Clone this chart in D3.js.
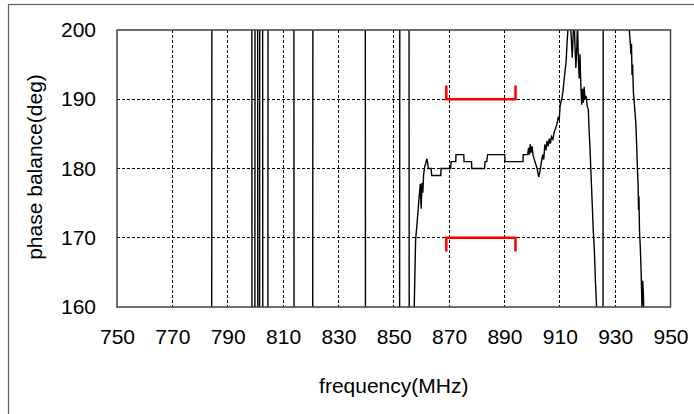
<!DOCTYPE html>
<html lang="en">
<head>
  <meta charset="utf-8">
  <title>Phase balance</title>
  <style>
    body {
      margin: 0;
      background: #fff;
    }

    svg text {
      font-family: "Liberation Sans", Arial, sans-serif;
      fill: #000;
    }

    .axis path {
      display: none;
    }

    .axis text {
      font-size: 21px;
    }

    .grid line {
      stroke: #000;
      stroke-width: 1;
      stroke-dasharray: 3,2;
      shape-rendering: crispEdges;
    }
  </style>
</head>
<body>
  <div id="chart"></div>

  <script src="https://d3js.org/d3.v7.min.js"></script>
  <script>
    // frequency (MHz) and phase balance (deg);
    // values outside 160..200 are where the trace leaves the window (phase wraps)
    var freq = [
      750, 784.2, 784.3, 798.7, 798.8, 799.8, 799.9, 800.8, 800.9, 801.5, 801.6,
      802.6, 802.7, 804.5, 804.6, 813.9, 814.0, 820.7, 820.8, 839.7, 839.8,
      852.1, 852.2, 855.5, 855.6,
      857.0, 857.4, 857.9, 858.4, 858.9, 859.3, 859.6, 859.9, 860.2, 860.5, 860.8,
      861.2, 861.6, 861.9, 862.2, 862.5, 863.5, 863.7, 867.0, 867.1, 870.6, 870.7,
      872.4, 872.5, 875.3, 875.4, 878.1, 878.2, 882.8, 883.0, 883.6, 883.9, 890.1,
      890.2, 896.7, 896.8, 898.4, 898.7, 899.0, 899.3, 899.6, 900.0, 900.3, 901.0,
      901.8, 902.4, 902.8, 903.3, 903.8, 904.2, 904.6, 905.0, 905.4, 905.8, 906.2,
      906.6, 907.0, 907.5, 908.0, 908.5, 909.0, 909.5, 909.8, 910.1, 910.4, 910.8,
      911.2, 911.6, 912.0, 912.3, 912.6, 913.0, 913.4, 913.8, 914.2, 914.5, 914.8,
      915.1, 915.5, 915.8, 916.1, 916.4, 916.7, 917.0, 917.3, 917.6, 917.9, 918.2,
      918.5, 918.8, 919.1, 919.5, 919.9, 920.3, 920.6, 920.9, 921.3, 921.7, 922.1,
      922.5, 922.9, 923.3, 923.7, 924.2, 925.6, 925.7,
      935.0, 935.1, 935.5, 935.7, 935.9, 936.1, 936.3, 936.6, 936.9, 937.2, 937.5,
      937.8, 938.1, 938.3, 938.45, 938.6, 938.8, 939.1, 939.4, 939.7, 939.95,
      940.2, 940.45, 941.0, 950
    ];

    var phase = [
      140, 140, 220, 220, 140, 140, 220, 220, 140, 140, 220,
      220, 140, 140, 220, 220, 140, 140, 220, 220, 140,
      140, 220, 220, 140,
      150, 160, 169.7, 172, 174.5, 176.5, 177.8, 174.2, 177.9, 176.5, 179.2,
      180.3, 180.8, 181.4, 181, 180, 180, 179, 179, 180, 180, 181,
      181, 182, 182, 181, 181, 180, 180, 181, 181, 182, 182,
      181, 181, 182, 182, 183, 182, 183.5, 182.3, 183.2, 182, 181,
      180, 178.8, 179.5, 180.8, 182, 181.3, 183.5, 182.6, 184, 183.2, 184.3,
      183.6, 184.6, 184.2, 185.3, 185.8, 186.5, 187.5, 187, 189, 189.6, 190.2,
      191.3, 193, 194.5, 195.5, 198, 200.5, 203, 201, 198.5, 196, 199,
      203, 197.5, 194.5, 197, 201, 196, 193, 196.5, 192, 189.2, 191.5,
      189.5, 191.8, 190, 190.5, 189, 188.5, 185.5, 183, 179, 175, 171,
      168, 163.5, 160, 156, 150, 145, 215,
      210, 200, 198, 196.5, 198, 193.5, 195, 191, 189.5, 188, 186.3,
      183, 179.5, 177.6, 174, 176, 171, 168.5, 165, 159.5, 163.8,
      162, 158, 150, 145
    ];

    var xTicks = [750, 770, 790, 810, 830, 850, 870, 890, 910, 930, 950];
    var yTicks = [160, 170, 180, 190, 200];

    // spec window: band edges (MHz) and limits (deg)
    var band = [869, 894];
    var limits = [190, 170];
    var limitTicks = [192, 168];

    var W = 694, H = 414;
    var margin = { top: 30, right: 23.5, bottom: 107, left: 117 },
        width = W - margin.left - margin.right,
        height = H - margin.top - margin.bottom;

    var x = d3.scaleLinear().domain([750, 950]).range([0, width]);
    var y = d3.scaleLinear().domain([160, 200]).range([height, 0]);

    var root = d3.select("#chart").append("svg")
        .attr("width", W)
        .attr("height", H);

    // outer chart frame
    root.append("rect")
        .attr("x", 8.5)
        .attr("y", 4.5)
        .attr("width", W + 20)
        .attr("height", H + 20)
        .attr("fill", "none")
        .attr("stroke", "#606060")
        .attr("stroke-width", 1.2);

    var svg = root.append("g")
        .attr("transform", "translate(" + margin.left + "," + margin.top + ")");

    svg.append("defs").append("clipPath")
        .attr("id", "plot-clip")
      .append("rect")
        .attr("width", width)
        .attr("height", height);

    // grid
    var grid = svg.append("g").attr("class", "grid");
    grid.selectAll(".vg")
        .data(xTicks.slice(1, -1))
        .enter().append("line")
        .attr("x1", function(d) { return x(d); })
        .attr("x2", function(d) { return x(d); })
        .attr("y1", 0)
        .attr("y2", height);
    grid.selectAll(".hg")
        .data(yTicks.slice(1, -1))
        .enter().append("line")
        .attr("x1", 0)
        .attr("x2", width)
        .attr("y1", function(d) { return y(d); })
        .attr("y2", function(d) { return y(d); });

    // trace
    var line = d3.line()
        .x(function(d) { return x(d[0]); })
        .y(function(d) { return y(d[1]); });

    svg.append("path")
        .datum(d3.zip(freq, phase))
        .attr("clip-path", "url(#plot-clip)")
        .attr("fill", "none")
        .attr("stroke", "#000")
        .attr("stroke-width", 1.4)
        .attr("d", line);

    // spec brackets
    var spec = svg.append("g")
        .attr("fill", "none")
        .attr("stroke", "#ff0000")
        .attr("stroke-width", 2.5);
    limits.forEach(function(v, i) {
      spec.append("path").attr("d", d3.line()([
        [x(band[0]), y(limitTicks[i])],
        [x(band[0]), y(v)],
        [x(band[1]), y(v)],
        [x(band[1]), y(limitTicks[i])]
      ]));
    });

    // plot border
    svg.append("rect")
        .attr("width", width)
        .attr("height", height)
        .attr("fill", "none")
        .attr("stroke", "#404040")
        .attr("stroke-width", 1.5);

    // axes
    svg.append("g")
        .attr("class", "x axis")
        .attr("transform", "translate(0," + height + ")")
        .call(d3.axisBottom(x).tickValues(xTicks).tickSize(0).tickPadding(22).tickFormat(d3.format("d")));

    svg.append("g")
        .attr("class", "y axis")
        .call(d3.axisLeft(y).tickValues(yTicks).tickSize(0).tickPadding(21).tickFormat(d3.format("d")));

    root.append("text")
        .attr("x", margin.left + width / 2)
        .attr("y", 393)
        .attr("text-anchor", "middle")
        .style("font-size", "21px")
        .text("frequency(MHz)");

    root.append("text")
        .attr("transform", "translate(42,167) rotate(-90)")
        .attr("text-anchor", "middle")
        .style("font-size", "21px")
        .text("phase balance(deg)");
  </script>
</body>
</html>
